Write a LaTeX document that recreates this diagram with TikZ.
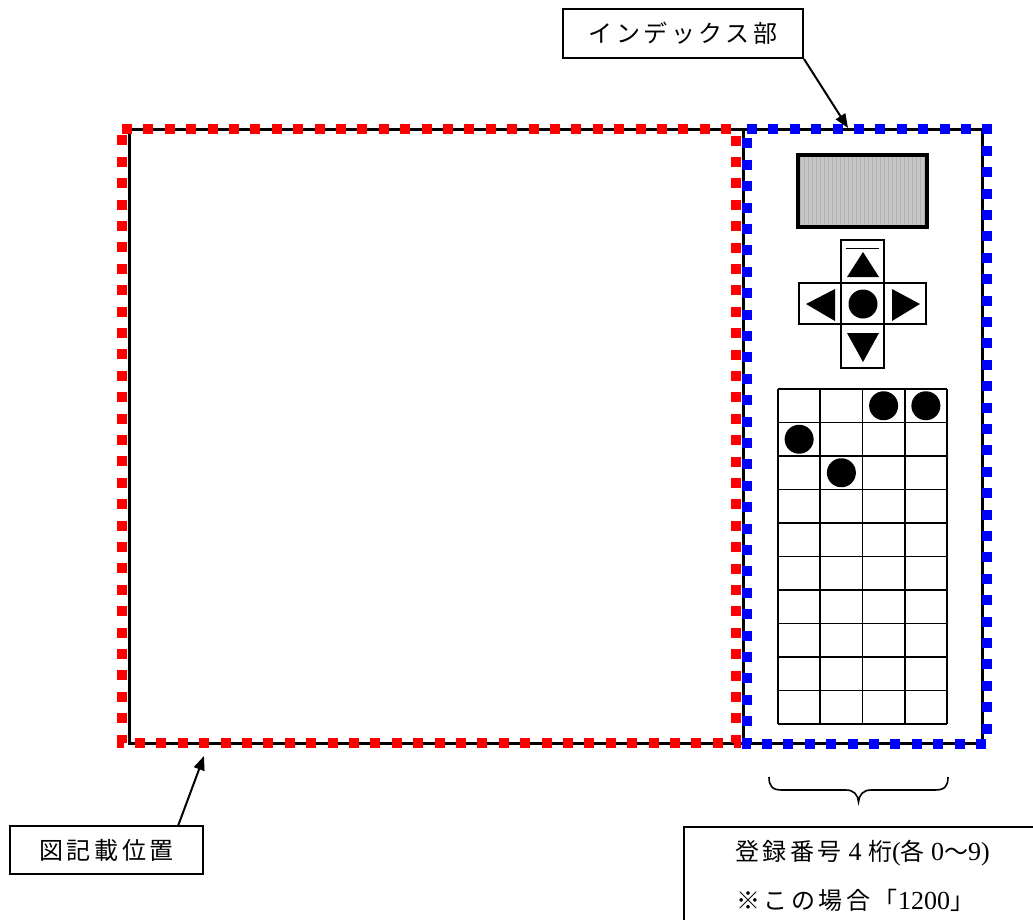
\documentclass[tikz,border=0pt]{standalone}
\usepackage{fontspec}
\setmainfont{Liberation Serif}
\newfontfamily\jp[LetterSpace=15]{Noto Sans CJK JP}
\usetikzlibrary{arrows.meta}
\newcommand{\lat}[1]{{\fontsize{26}{30}\selectfont #1}}
\tikzset{
  blk/.style={draw=black, line width=3pt},
  reddash/.style={draw=red, line width=10.5pt, dash pattern=on 10pt off 11.4pt},
  bluedash/.style={draw=blue, line width=10.5pt, dash pattern=on 10pt off 11.4pt},
  lbl/.style={draw=black, line width=2pt, inner sep=0pt, font=\fontsize{24}{30}\selectfont},
  cell/.style={draw=black, line width=1.8pt},
  tri/.style={fill=black},
  dot/.style={fill=black},
  callout/.style={line width=2pt, -{Triangle[length=14pt,width=11pt]}},
}
\begin{document}
\begin{tikzpicture}[x=1pt,y=-1pt]
\useasboundingbox (0,0) rectangle (1033,919);
\clip (0,0) rectangle (1033,919);
% outer frame
\draw[blk] (129,129) rectangle (982,743);
\draw[blk] (743,129) -- (743,743);
% display
\begin{scope}
  \clip (798,155) rectangle (927,227);
  \fill[gray!45] (798,155) rectangle (927,227);
  \foreach \i in {0,...,33} {
    \draw[gray!62, line width=1pt] (800+\i*4,155) -- (800+\i*4,227);
  }
\end{scope}
\draw[line width=4pt] (798,155) rectangle (927,227);
% d-pad
\draw[cell] (841,240) rectangle (884,283);
\draw[cell] (799,283) rectangle (841,324);
\draw[cell] (841,283) rectangle (884,324);
\draw[cell] (884,283) rectangle (926,324);
\draw[cell] (841,324) rectangle (884,368);
\draw[line width=1.5pt] (846,248.5) -- (879,248.5);
\fill[tri] (863,252) -- (879,277) -- (847,277) -- cycle;
\fill[tri] (847,333) -- (879,333) -- (863,362) -- cycle;
\fill[tri] (806,304) -- (835,289) -- (835,321) -- cycle;
\fill[tri] (920,304) -- (892,289) -- (892,321) -- cycle;
\fill[dot] (863,304) circle (14.5);
% grid
\foreach \c in {0,...,4} {
  \draw[cell] ({778+\c*42.25},389) -- ({778+\c*42.25},724);
}
\foreach \r in {0,...,10} {
  \draw[cell] (778,{389+\r*33.5}) -- (947,{389+\r*33.5});
}
\fill[dot] ({778+2.5*42.25},{389+0.5*33.5}) circle (14.5);
\fill[dot] ({778+3.5*42.25},{389+0.5*33.5}) circle (14.5);
\fill[dot] ({778+0.5*42.25},{389+1.5*33.5}) circle (14.5);
\fill[dot] ({778+1.5*42.25},{389+2.5*33.5}) circle (14.5);
% dashed regions
\draw[reddash] (122,129) -- (736,129) -- (736,743) -- (122,743) -- cycle;
\draw[bluedash] (747,129) -- (987,129) -- (987,744) -- (747,744) -- cycle;
% brace
\draw[line width=1.6pt] (769,777) .. controls (769,786) and (772,790) .. (782,790)
  -- (846,790) .. controls (854,790) and (858,795) .. (858.5,802)
  .. controls (859,795) and (863,790) .. (871,790)
  -- (935,790) .. controls (945,790) and (948,786) .. (948,777);
% labels
\node[lbl, minimum width=240pt, minimum height=49pt] (idx) at (683,33.5) {\jp インデックス部};
\node[lbl, minimum width=193pt, minimum height=48pt] (fig) at (106.5,850) {\jp 図記載位置};
\node[draw=black, line width=2pt, minimum width=420pt, minimum height=140pt, anchor=north west, inner sep=0pt] (regbox) at (683,826) {};
\node[font=\fontsize{24}{30}\selectfont, inner sep=0pt] (reg1) at (862.5,853) {{\jp 登録番号}\lat{ 4 }{\jp 桁}\lat{(}{\jp 各}\lat{ 0}{\jp 〜}\lat{9)}};
\node[font=\fontsize{24}{30}\selectfont, inner sep=0pt] (reg2) at (855,900) {{\jp ※この場合「}\lat{1200}{\jp 」}};
% callouts
\coordinate (idxtip) at (848,128);
\coordinate (figtip) at (204,756);
\coordinate (figstart) at (178,826);
\draw[callout] (idx.south east) -- (idxtip);
\draw[callout] (figstart) -- (figtip);
\end{tikzpicture}
\end{document}
